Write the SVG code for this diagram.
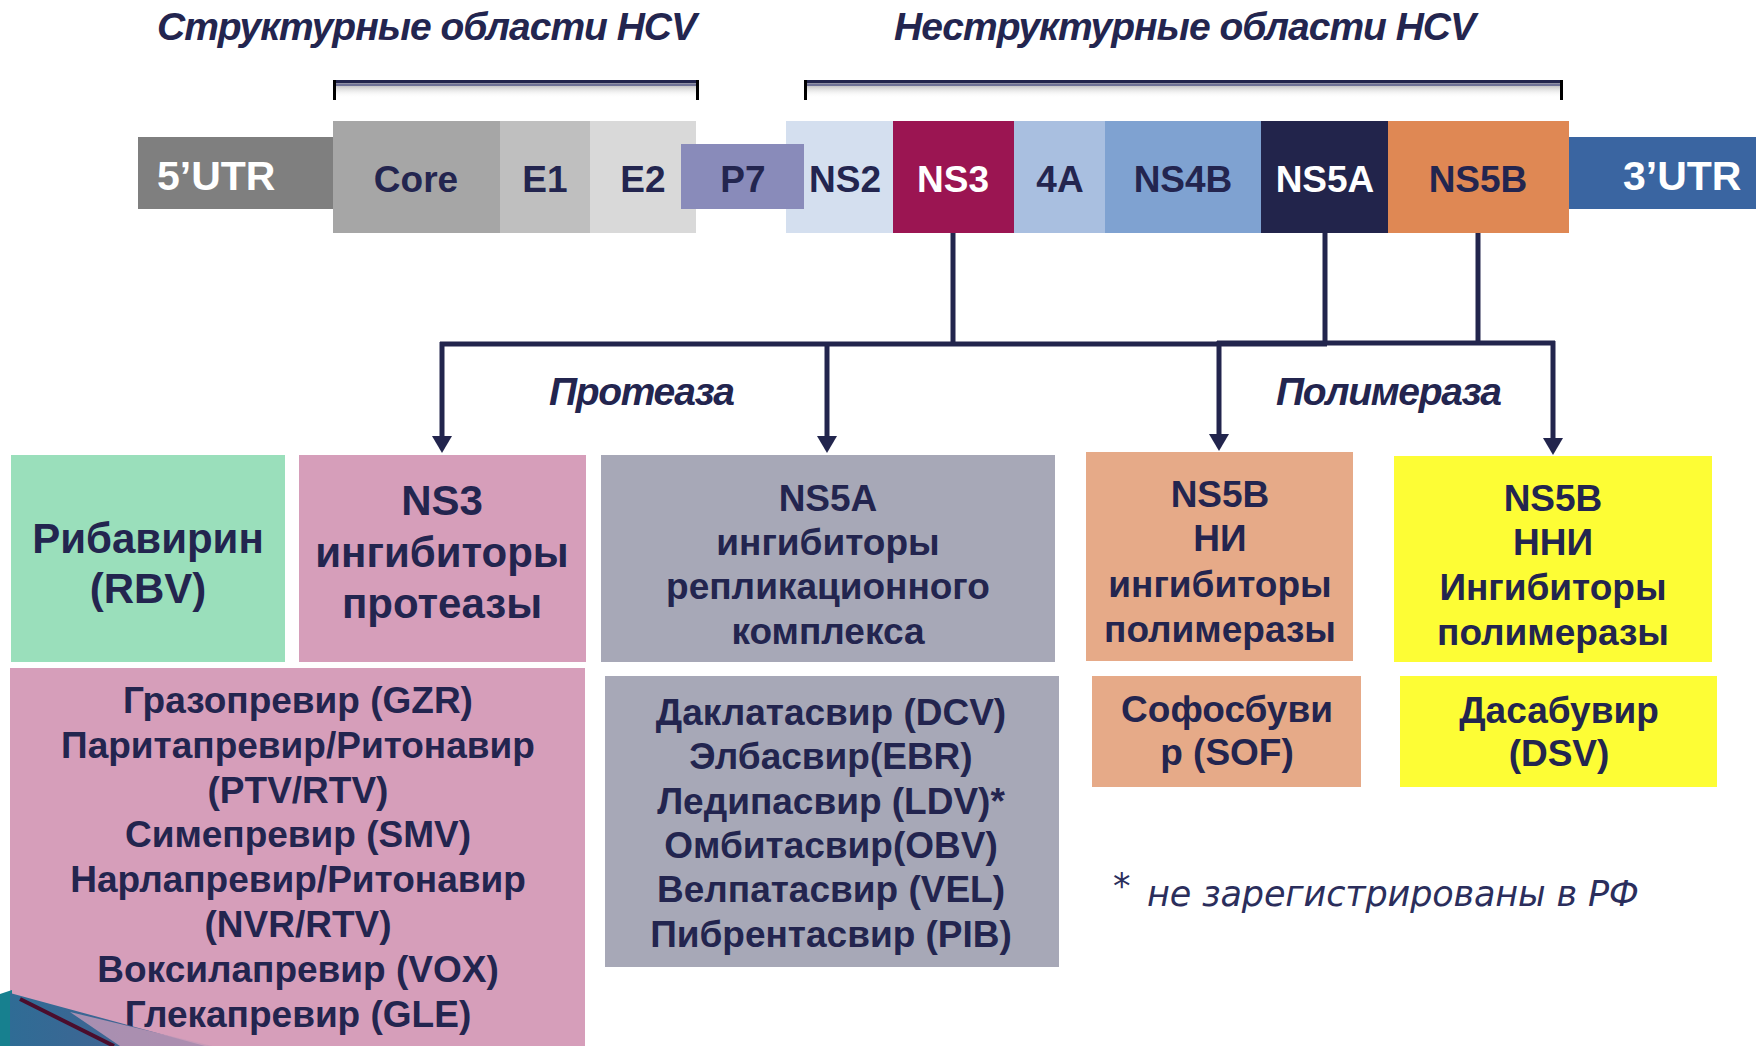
<svg xmlns="http://www.w3.org/2000/svg" width="1756" height="1046" viewBox="0 0 1756 1046">
<defs>
<style>
text{font-family:"Liberation Sans",Arial,sans-serif;font-weight:bold;fill:#23254f}
.seg{font-size:37px;text-anchor:middle}
.utr{font-size:41px;fill:#fff}
.w{fill:#fff}
.ttl{font-size:39px;font-style:italic}
.b42{font-size:42px;text-anchor:middle}
.b37{font-size:37px;text-anchor:middle}
.note{font-family:"DejaVu Sans",Verdana,sans-serif;font-weight:normal;font-style:italic;font-size:35px;fill:#2b2e5c}
.con{stroke:#22254d;stroke-width:5;fill:none}
.arr{stroke:#22254d;stroke-width:5;fill:none;marker-end:url(#ah)}
</style>
<marker id="ah" viewBox="0 0 17 20" refX="0" refY="10" markerWidth="17" markerHeight="20" markerUnits="userSpaceOnUse" orient="auto">
<path d="M0,0 L17,10 L0,20 z" fill="#22254d"/>
</marker>
<linearGradient id="shd" x1="0" y1="0" x2="0" y2="1">
<stop offset="0" stop-color="#b8b8b8" stop-opacity="0.8"/>
<stop offset="1" stop-color="#ffffff" stop-opacity="0"/>
</linearGradient>
<linearGradient id="fan" x1="0" y1="0" x2="1" y2="0">
<stop offset="0" stop-color="#2f6c95"/>
<stop offset="1" stop-color="#4d5f92"/>
</linearGradient>
</defs>

<rect width="1756" height="1046" fill="#fff"/>

<g id="title-structural">
<text class="ttl" x="157" y="40" textLength="540" lengthAdjust="spacing">Структурные области HCV</text>
<rect x="333" y="80" width="366" height="3.5" fill="#22254d"/>
<rect x="336" y="84" width="360" height="2" fill="#6f7296"/>
<rect x="333" y="86" width="366" height="12" fill="url(#shd)"/>
<rect x="333" y="80" width="3" height="20" fill="#000"/>
<rect x="696" y="80" width="3" height="20" fill="#000"/>
</g>
<g id="title-nonstructural">
<text class="ttl" x="894" y="40" textLength="582" lengthAdjust="spacing">Неструктурные области HCV</text>
<rect x="804" y="80" width="759" height="3.5" fill="#22254d"/>
<rect x="807" y="84" width="753" height="2" fill="#6f7296"/>
<rect x="804" y="86" width="759" height="12" fill="url(#shd)"/>
<rect x="804" y="80" width="3" height="20" fill="#000"/>
<rect x="1560" y="80" width="3" height="20" fill="#000"/>
</g>

<g id="utr5"><rect x="138" y="137" width="195" height="72" fill="#7f7f7f"/><text class="utr" x="157" y="190">5’UTR</text></g>
<g id="core"><rect x="333" y="121" width="167" height="112" fill="#a6a6a6"/><text class="seg" x="416" y="192">Core</text></g>
<g id="e1"><rect x="500" y="121" width="90" height="112" fill="#bfbfbf"/><text class="seg" x="545" y="192">E1</text></g>
<g id="e2"><rect x="590" y="121" width="106" height="112" fill="#d9d9d9"/><text class="seg" x="643" y="192">E2</text></g>
<g id="ns2"><rect x="786" y="121" width="107" height="112" fill="#d4dfef"/><text class="seg" x="845" y="192">NS2</text></g>
<g id="ns3"><rect x="893" y="121" width="121" height="112" fill="#9b1552"/><text class="seg w" x="953" y="192">NS3</text></g>
<g id="ns4a"><rect x="1014" y="121" width="91" height="112" fill="#a9bfe0"/><text class="seg" x="1060" y="192">4A</text></g>
<g id="ns4b"><rect x="1105" y="121" width="156" height="112" fill="#7fa2d1"/><text class="seg" x="1183" y="192">NS4B</text></g>
<g id="ns5a"><rect x="1261" y="121" width="127" height="112" fill="#22244b"/><text class="seg w" x="1325" y="192">NS5A</text></g>
<g id="ns5b"><rect x="1388" y="121" width="181" height="112" fill="#df8854"/><text class="seg" x="1478" y="192">NS5B</text></g>
<g id="p7"><rect x="681" y="144" width="123" height="65" fill="#898bba"/><text class="seg" x="743" y="192">P7</text></g>
<g id="utr3"><rect x="1569" y="137" width="187" height="72" fill="#3a65a1"/><text class="utr" x="1623" y="190">3’UTR</text></g>

<g id="connectors">
<path class="con" d="M953,233 V344"/>
<path class="con" d="M440,344 H1327"/>
<path class="con" d="M1325,233 V344"/>
<path class="con" d="M1478,233 V343"/>
<path class="con" d="M1217,343 H1555"/>
<path class="arr" d="M442,342 V436"/>
<path class="arr" d="M827,344 V436"/>
<path class="arr" d="M1219,341 V434"/>
<path class="arr" d="M1553,341 V438"/>
<text class="ttl" x="549" y="405" textLength="186" lengthAdjust="spacing" font-size="37">Протеаза</text>
<text class="ttl" x="1276" y="405" textLength="226" lengthAdjust="spacing" font-size="37">Полимераза</text>
</g>

<g id="ribavirin"><rect x="11" y="455" width="274" height="207" fill="#9adfbb"/>
<text class="b42" x="148" y="553">Рибавирин</text><text class="b42" x="148" y="603">(RBV)</text></g>
<g id="ns3-inhibitors"><rect x="299" y="455" width="287" height="207" fill="#d69eba"/>
<text class="b42" x="442" y="515">NS3</text><text class="b42" x="442" y="567">ингибиторы</text><text class="b42" x="442" y="618">протеазы</text></g>
<g id="ns5a-inhibitors"><rect x="601" y="455" width="454" height="207" fill="#a7a8b7"/>
<text class="b37" x="828" y="511">NS5A</text><text class="b37" x="828" y="555">ингибиторы</text><text class="b37" x="828" y="599">репликационного</text><text class="b37" x="828" y="644">комплекса</text></g>
<g id="ns5b-ni"><rect x="1086" y="452" width="267" height="209" fill="#e6aa88"/>
<text class="b37" x="1220" y="507">NS5B</text><text class="b37" x="1220" y="551">НИ</text><text class="b37" x="1220" y="597">ингибиторы</text><text class="b37" x="1220" y="642">полимеразы</text></g>
<g id="ns5b-nni"><rect x="1394" y="456" width="318" height="206" fill="#fdfd35"/>
<text class="b37" x="1553" y="511">NS5B</text><text class="b37" x="1553" y="555">ННИ</text><text class="b37" x="1553" y="600">Ингибиторы</text><text class="b37" x="1553" y="645">полимеразы</text></g>

<g id="ns3-drugs"><rect x="10" y="668" width="575" height="378" fill="#d69eba"/>
<text class="b37" x="298" y="713">Гразопревир (GZR)</text>
<text class="b37" x="298" y="758">Паритапревир/Ритонавир</text>
<text class="b37" x="298" y="803">(PTV/RTV)</text>
<text class="b37" x="298" y="847">Симепревир (SMV)</text>
<text class="b37" x="298" y="892">Нарлапревир/Ритонавир</text>
<text class="b37" x="298" y="937">(NVR/RTV)</text>
<text class="b37" x="298" y="982">Воксилапревир (VOX)</text>
<text class="b37" x="298" y="1027">Глекапревир (GLE)</text></g>
<g id="ns5a-drugs"><rect x="605" y="676" width="454" height="291" fill="#a7a8b7"/>
<text class="b37" x="831" y="725">Даклатасвир (DCV)</text>
<text class="b37" x="831" y="769">Элбасвир(EBR)</text>
<text class="b37" x="831" y="814">Ледипасвир (LDV)*</text>
<text class="b37" x="831" y="858">Омбитасвир(OBV)</text>
<text class="b37" x="831" y="902">Велпатасвир (VEL)</text>
<text class="b37" x="831" y="947">Пибрентасвир (PIB)</text></g>
<g id="sofosbuvir"><rect x="1092" y="676" width="269" height="111" fill="#e6aa88"/>
<text class="b37" x="1227" y="722">Софосбуви</text><text class="b37" x="1227" y="765">р (SOF)</text></g>
<g id="dasabuvir"><rect x="1400" y="676" width="317" height="111" fill="#fdfd35"/>
<text class="b37" x="1559" y="723">Дасабувир</text><text class="b37" x="1559" y="766">(DSV)</text></g>

<g id="footnote">
<text class="note" x="1113" y="898">*</text>
<text class="note" x="1147" y="906" textLength="492" lengthAdjust="spacing">не зарегистрированы в РФ</text>
</g>

<g id="corner-decoration">
<polygon points="0,994 12,990 12,1046 0,1046" fill="#17808f"/>
<polygon points="10,993 205,1046 10,1046" fill="url(#fan)"/>
<polygon points="70,1012 212,1046 120,1046" fill="#c49ab8" opacity="0.8"/>
<path d="M20,999 L114,1046" stroke="#4b0d2c" stroke-width="4"/>
</g>
</svg>
